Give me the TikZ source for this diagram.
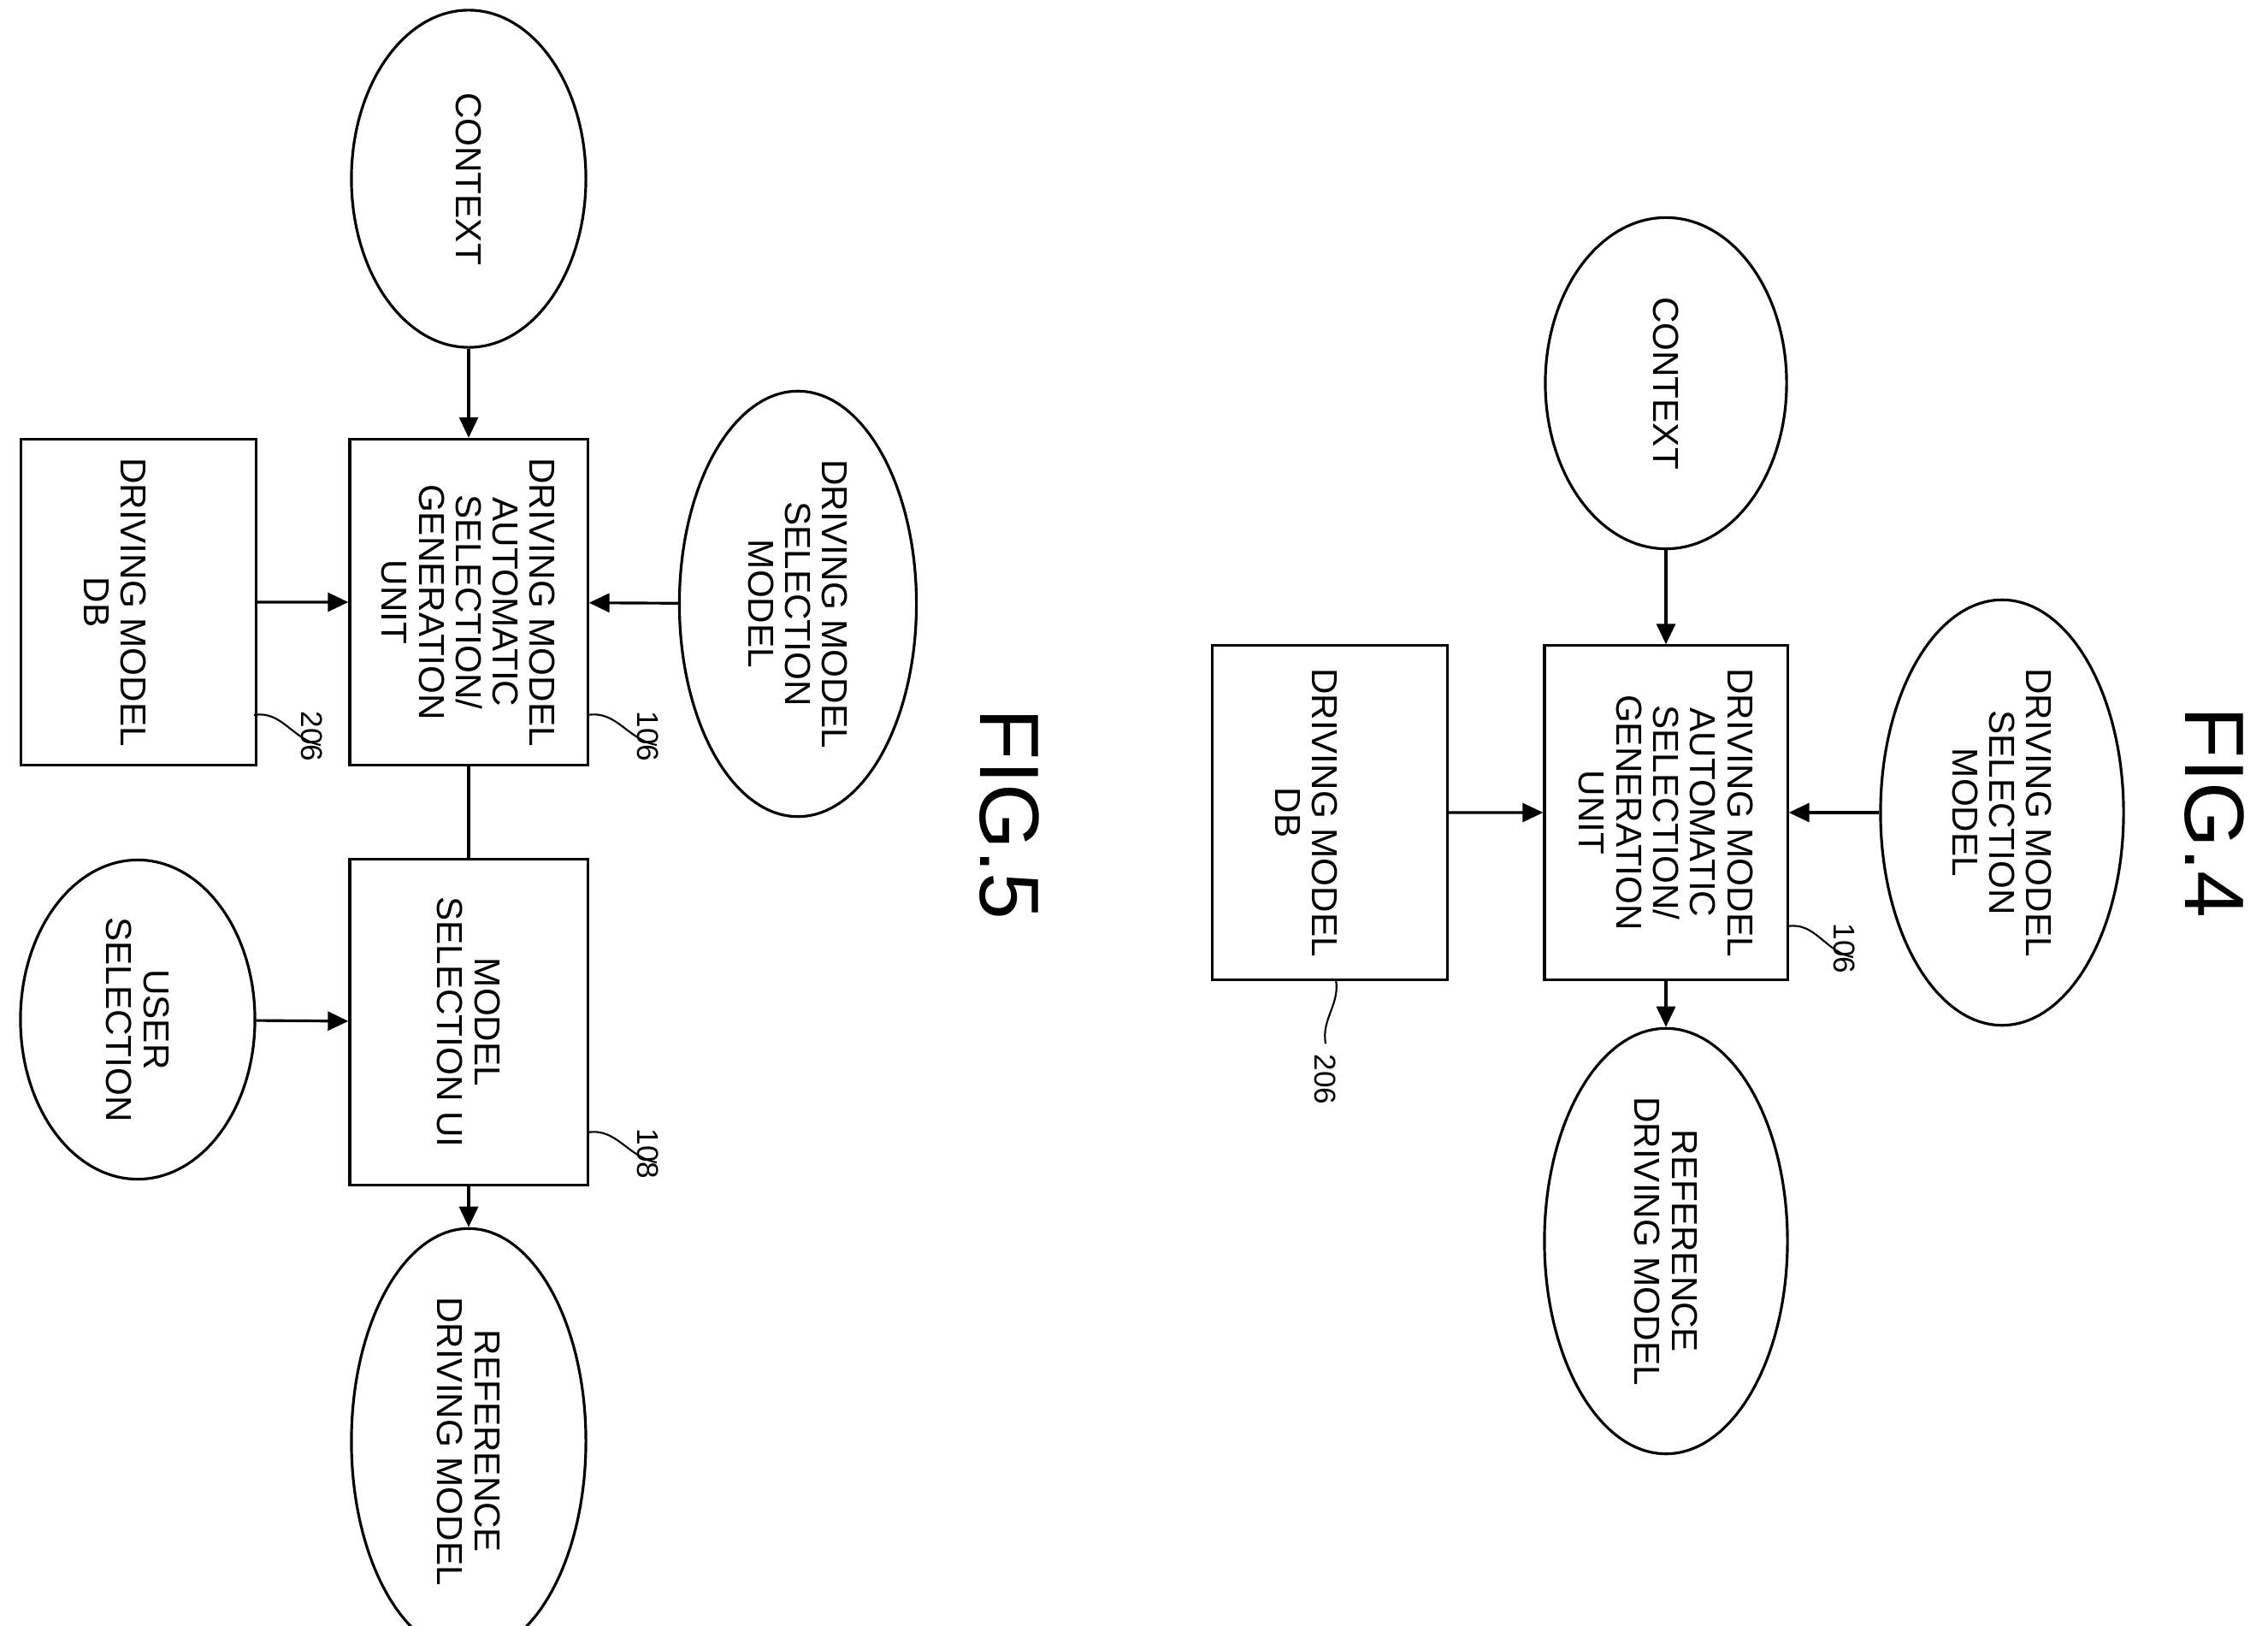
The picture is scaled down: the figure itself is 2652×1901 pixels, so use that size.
\documentclass[tikz,border=0pt]{standalone}
\usepackage{fontspec}
\setmainfont{Liberation Sans}
\usetikzlibrary{positioning}
\usetikzlibrary{shapes.geometric}
\usetikzlibrary {arrows.meta}
\tikzset{flowbox/.style={rectangle,draw=black,line width=0.9pt,fill=white,
inner sep=2pt,rotate=-90,align=center,font=\fontsize{12}{12.3}\selectfont}}
\tikzset{flowoval/.style={ellipse,draw=black,line width=0.9pt,fill=white,
inner sep=2pt,rotate=-90,align=center,font=\fontsize{12}{12.3}\selectfont}}
\tikzset{flowdb/.style={cylinder,draw=black,line width=0.9pt,fill=white,
aspect=0.14,inner sep=0pt,minimum width=3.85cm,minimum height=2.75cm}}
\tikzset{flowtext/.style={rotate=-90,align=center,font=\fontsize{12}{12.3}\selectfont}}
\tikzset{refnum/.style={rotate=-90,font=\fontsize{10}{10}\selectfont}}
\tikzset{figname/.style={rotate=-90,font=\fontsize{28}{28}\selectfont}}
\tikzset{flowarrow/.style={line width=0.9pt,-{Triangle[length=2.4mm,width=2.2mm]}}}

\begin{document}
\begin{tikzpicture}[x=0.01cm,y=-0.01cm]
        \useasboundingbox (0,0) rectangle (2652,1901);

        % FIG.5
        \node[flowoval,minimum width=3.94cm,minimum height=2.74cm] (ctxA) at (548,209) {CONTEXT};
        \node[flowbox,minimum width=3.81cm,minimum height=2.78cm] (unitA) at (548,704) {DRIVING MODEL\\AUTOMATIC\\SELECTION/\\GENERATION\\UNIT};
        \node[flowoval,minimum width=3.82cm,minimum height=2.77cm] (selA) at (933,706) {DRIVING MODEL\\SELECTION\\MODEL};
        \node[flowdb,minimum width=3.81cm] (dbA) at (161,704) {};
        \node[flowtext] (dbAtxt) at (135,704) {DRIVING MODEL\\DB};
        \node[flowbox,minimum width=3.80cm,minimum height=2.78cm] (uiA) at (548,1195) {MODEL\\SELECTION UI};
        \node[flowoval,minimum width=3.73cm,minimum height=2.74cm] (userA) at (161,1192) {USER\\SELECTION};
        \node[flowoval,minimum width=3.76cm,minimum height=2.74cm] (refA) at (548,1685) {REFERENCE\\DRIVING MODEL};
        \node[figname] (figA) at (1180,952) {FIG.5};

        \draw [flowarrow] (ctxA) -- (unitA);
        \draw [flowarrow] (selA) -- (unitA);
        \draw [flowarrow] (dbA) -- (unitA);
        \draw [line width=0.9pt] (unitA) -- (uiA);
        \draw [flowarrow] (userA) -- (uiA);
        \draw [flowarrow] (uiA) -- (refA);

        \node[refnum] (numAunit) at (758,861) {106};
        \node[refnum] (numAdb) at (365,861) {206};
        \node[refnum] (numAui) at (758,1349) {108};
        \coordinate (tagAunit) at (687,836);
        \coordinate (tagAdb) at (297,836);
        \coordinate (tagAui) at (687,1324);
        \draw [line width=0.6pt] (tagAunit) to[out=10,in=170] ([xshift=-0.15cm,yshift=-0.1cm]numAunit.north);
        \draw [line width=0.6pt] (tagAdb) to[out=10,in=170] ([xshift=-0.15cm,yshift=-0.1cm]numAdb.north);
        \draw [line width=0.6pt] (tagAui) to[out=10,in=170] ([xshift=-0.15cm,yshift=-0.1cm]numAui.north);

        % FIG.4
        \node[flowoval,minimum width=3.87cm,minimum height=2.82cm] (ctxB) at (1948,448) {CONTEXT};
        \node[flowbox,minimum width=3.90cm,minimum height=2.84cm] (unitB) at (1948,950) {DRIVING MODEL\\AUTOMATIC\\SELECTION/\\GENERATION\\UNIT};
        \node[flowoval,minimum width=3.90cm,minimum height=2.84cm] (selB) at (2341,950) {DRIVING MODEL\\SELECTION\\MODEL};
        \node[flowdb,minimum width=3.90cm] (dbB) at (1554,950) {};
        \node[flowtext] (dbBtxt) at (1528,950) {DRIVING MODEL\\DB};
        \node[flowoval,minimum width=3.90cm,minimum height=2.84cm] (refB) at (1948,1451) {REFERENCE\\DRIVING MODEL};
        \node[figname] (figB) at (2589,950) {FIG.4};

        \draw [flowarrow] (ctxB) -- (unitB);
        \draw [flowarrow] (selB) -- (unitB);
        \draw [flowarrow] (dbB) -- (unitB);
        \draw [flowarrow] (unitB) -- (refB);

        \node[refnum] (numBunit) at (2157,1109) {106};
        \node[refnum] (numBdb) at (1550,1262) {206};
        \coordinate (tagBunit) at (2090,1083);
        \coordinate (tagBdb) at (1562,1145);
        \draw [line width=0.6pt] (tagBunit) to[out=10,in=170] ([xshift=-0.15cm,yshift=-0.1cm]numBunit.north);
        \draw [line width=0.6pt] (tagBdb) to[out=-80,in=100] (numBdb.west);

    \end{tikzpicture}
\end{document}
